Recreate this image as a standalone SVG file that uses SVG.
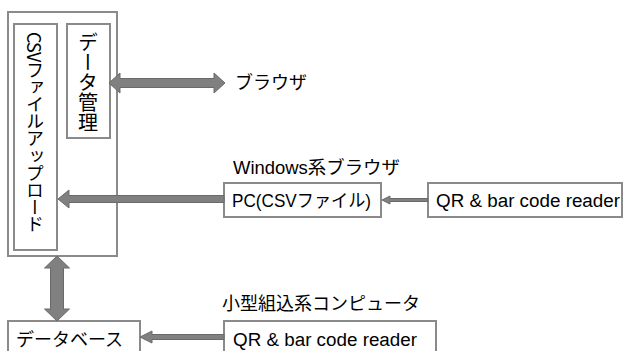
<svg xmlns="http://www.w3.org/2000/svg" width="628" height="351" viewBox="0 0 628 351">
<style>
.box{fill:#fff;stroke:#8a8a8a;stroke-width:2}
.arr{fill:#808080;stroke:#6a6a6a;stroke-width:1}
.t{font-family:"Liberation Sans","Noto Sans CJK JP",sans-serif;font-size:18px;fill:#000}
.v{font-family:"Noto Sans CJK JP",sans-serif;font-size:18px;fill:#000;writing-mode:vertical-rl}
</style>
<rect width="628" height="351" fill="#fff"/>
<g id="server">
<rect class="box" x="8" y="12" width="109" height="244"/>
</g>
<g id="csv-upload">
<rect class="box" x="14" y="24" width="43" height="226"/>
<text class="v" x="35" y="32" textLength="201" lengthAdjust="spacing">CSVファイルアップロード</text>
</g>
<g id="data-mgmt">
<rect class="box" x="67" y="24" width="43" height="114"/>
<text class="v" x="88" y="32" style="font-size:20px" textLength="100" lengthAdjust="spacing">データ管理</text>
</g>
<g id="browser">
<text class="t" x="235" y="89">ブラウザ</text>
</g>
<g id="pc">
<text class="t" x="233" y="174" textLength="167" lengthAdjust="spacingAndGlyphs">Windows系ブラウザ</text>
<rect class="box" x="224" y="183" width="157" height="34"/>
<text class="t" x="232" y="207" textLength="139" lengthAdjust="spacingAndGlyphs">PC(CSVファイル)</text>
</g>
<g id="reader1">
<rect class="box" x="428" y="183" width="194" height="34"/>
<text class="t" x="436" y="207" textLength="184" lengthAdjust="spacingAndGlyphs">QR &amp; bar code reader</text>
</g>
<g id="database">
<rect class="box" x="8" y="321" width="132" height="40"/>
<text class="t" x="16" y="346">データベース</text>
</g>
<g id="reader2">
<text class="t" x="222" y="310">小型組込系コンピュータ</text>
<rect class="box" x="224" y="321" width="212" height="40"/>
<text class="t" x="233" y="346" textLength="184" lengthAdjust="spacingAndGlyphs">QR &amp; bar code reader</text>
</g>
<g id="connectors">
<polygon class="arr" points="109,83 120,73 120,78.5 214,78.5 214,73 225,83 214,93 214,87.5 120,87.5 120,93"/>
<polygon class="arr" points="58,199 69,190 69,195.5 224,195.5 224,202.5 69,202.5 69,208"/>
<polygon class="arr" points="57,256 69.5,268 63.5,268 63.5,309 69.5,309 57,321 44.5,309 50.5,309 50.5,268 44.5,268"/>
<polygon class="arr" points="382,200 390,196 390,198.5 428,198.5 428,201.5 390,201.5 390,204"/>
<polygon class="arr" points="140,337 152,331 152,334.5 224,334.5 224,339.5 152,339.5 152,343"/>
</g>
</svg>
